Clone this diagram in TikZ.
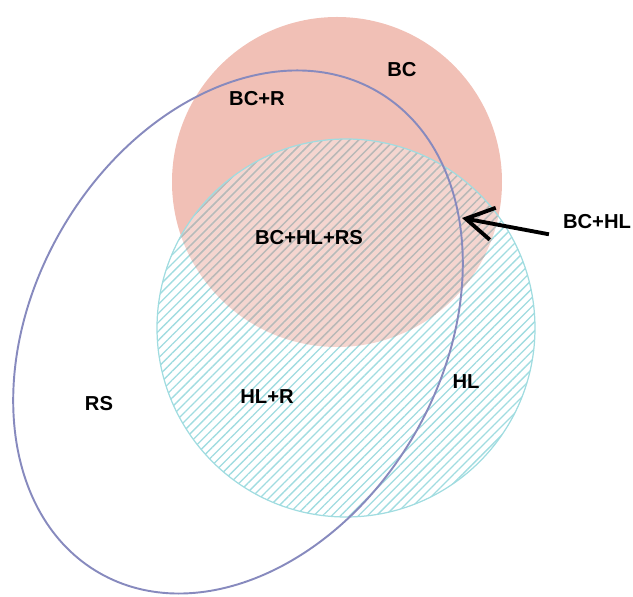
\documentclass[tikz,border=0pt]{standalone}
\usepackage{fontspec}
\setmainfont{Liberation Sans}
\usetikzlibrary{patterns.meta, arrows.meta}
\definecolor{bcred}{RGB}{241,192,182}
\definecolor{hlteal}{RGB}{160,220,224}
\definecolor{mixgray}{RGB}{190,182,180}
\definecolor{rsblue}{RGB}{135,138,190}

\begin{document}
\begin{tikzpicture}[x=0.02cm,y=-0.02cm,
        lbl/.style={font=\fontsize{11.5}{13}\selectfont\bfseries, inner sep=1pt},
        hatch/.style={pattern={Lines[angle=45,distance=3.6pt,line width=0.75pt]}},
        >={Straight Barb[length=5.5mm,width=6.5mm]}]
    \useasboundingbox (0,0) rectangle (633,597);

    % the BC set
    \fill[bcred] (337,182) circle (165);

    % the HL set, hatched over the BC set
    \fill[white, fill opacity=0.35] (346,328) circle (189);
    \fill[hatch, pattern color=hlteal] (346,328) circle (189);
    \begin{scope}
        \clip (337,182) circle (165);
        \fill[hatch, pattern color=mixgray] (346,328) circle (189);
    \end{scope}
    \draw[hlteal, line width=0.7pt] (346,328) circle (189);

    % the RS set
    \draw[rsblue, line width=1.1pt, rotate around={60:(238,332)}]
        (238,332) ellipse [x radius=278, y radius=204];

    % labels
    \node[lbl] (bc) at (402,70) {BC};
    \node[lbl] (bcr) at (257,99) {BC+R};
    \node[lbl] (bchlrs) at (309,238) {BC+HL+RS};
    \node[lbl] (bchl) at (597,222) {BC+HL};
    \node[lbl] (rs) at (99,404) {RS};
    \node[lbl] (hlr) at (267,397) {HL+R};
    \node[lbl] (hl) at (466,382) {HL};

    % the arrow
    \coordinate (tip) at (462,218);
    \draw[->, line width=2.2pt] ([yshift=-7pt]bchl.west) ++(-12,0) -- (tip);
\end{tikzpicture}
\end{document}
